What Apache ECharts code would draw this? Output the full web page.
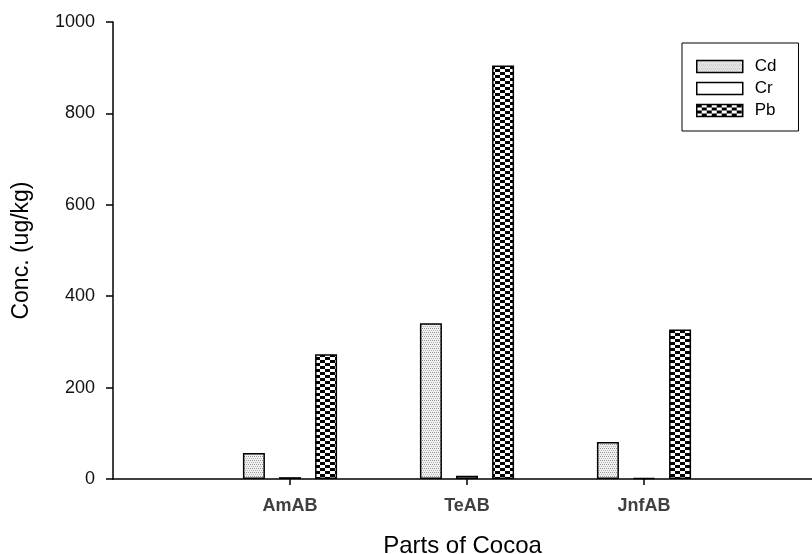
<!DOCTYPE html>
<html>
<head>
<meta charset="utf-8">
<script src="https://cdn.jsdelivr.net/npm/echarts@6/dist/echarts.min.js"></script>
<style>html,body{margin:0;padding:0;background:#fff;overflow:hidden}#c{width:812px;height:554px}</style>
</head>
<body>
<div id="c"></div>
<script>
// ---- data ----
const categories = ['AmAB', 'TeAB', 'JnfAB'];
const seriesNames = ['Cd', 'Cr', 'Pb'];
const cdValues = [57, 341, 81];
const crValues = [4, 7, 2];
const pbValues = [273, 905, 327];
const yTicks = [0, 200, 400, 600, 800, 1000];

// ---- patterns ----
function makeCanvas(w, h, draw) {
  const c = document.createElement('canvas');
  c.width = w; c.height = h;
  const ctx = c.getContext('2d');
  draw(ctx);
  return c;
}
const cdCanvas = makeCanvas(4, 4, ctx => {
  ctx.fillStyle = '#efefef'; ctx.fillRect(0, 0, 4, 4);
  ctx.fillStyle = '#9a9a9a';
  ctx.fillRect(0, 0, 1, 1); ctx.fillRect(2, 0, 1, 1);
  ctx.fillStyle = '#b8b8b8';
  ctx.fillRect(1, 2, 1, 1); ctx.fillRect(3, 2, 1, 1);
});
const pbCanvas = makeCanvas(10, 6, ctx => {
  ctx.fillStyle = '#ffffff'; ctx.fillRect(0, 0, 10, 6);
  ctx.fillStyle = '#000000';
  ctx.fillRect(0, 0, 5, 3);
  ctx.fillRect(5, 3, 5, 3);
});
const fills = [
  { image: cdCanvas, repeat: 'repeat' },
  '#ffffff',
  { image: pbCanvas, repeat: 'repeat' }
];
const values = [cdValues, crValues, pbValues];

const axisCats = [''].concat(categories, ['']);
const FONT = 'Liberation Sans, Arial, sans-serif';

const chart = echarts.init(document.getElementById('c'), null, { renderer: 'canvas' });
chart.setOption({
  animation: false,
  backgroundColor: '#ffffff',
  grid: { left: 113, top: 22, bottom: 75, width: 708, containLabel: false, outerBoundsMode: 'none' },
  legend: {
    left: 682, top: 43,
    orient: 'vertical',
    data: seriesNames,
    icon: 'rect',
    itemWidth: 46, itemHeight: 12, itemGap: 5,
    padding: [15, 22, 12, 14],
    borderColor: '#000', borderWidth: 1,
    itemStyle: { borderColor: '#000', borderWidth: 1.5 },
    textStyle: { fontFamily: FONT, fontSize: 17, color: '#000', lineHeight: 17, padding: [0, 0, 0, 7] }
  },
  xAxis: {
    type: 'category',
    data: axisCats,
    boundaryGap: false,
    name: 'Parts of Cocoa',
    nameLocation: 'middle',
    nameGap: 55,
    nameTextStyle: { fontFamily: FONT, fontSize: 24, color: '#000', padding: [0, 9, 0, 0] },
    axisLine: { lineStyle: { color: '#000', width: 1.5 } },
    axisTick: { show: true, length: 6, lineStyle: { color: '#000', width: 1.5 }, interval: (i) => i > 0 && i < axisCats.length - 1 },
    axisLabel: { interval: 0, margin: 18, fontFamily: FONT, fontSize: 18, fontWeight: 'bold', color: '#404040' },
    splitLine: { show: false }
  },
  yAxis: {
    type: 'value',
    min: yTicks[0], max: yTicks[yTicks.length - 1], interval: 200,
    name: 'Conc. (ug/kg)',
    nameLocation: 'middle',
    nameGap: 80,
    nameTextStyle: { fontFamily: FONT, fontSize: 23, color: '#000' },
    axisLine: { show: true, lineStyle: { color: '#000', width: 1.5 } },
    axisTick: { show: true, length: 7, lineStyle: { color: '#000', width: 1.5 } },
    axisLabel: { margin: 18, fontFamily: FONT, fontSize: 18, color: '#111', formatter: (v) => String(v) },
    splitLine: { show: false }
  },
  series: seriesNames.map((n, k) => ({
    name: n,
    type: 'bar',
    barWidth: 22,
    barGap: '64%',
    data: ['-'].concat(values[k], ['-']),
    itemStyle: { color: fills[k], borderColor: '#000', borderWidth: 1.5 }
  }))
});
</script>
</body>
</html>
